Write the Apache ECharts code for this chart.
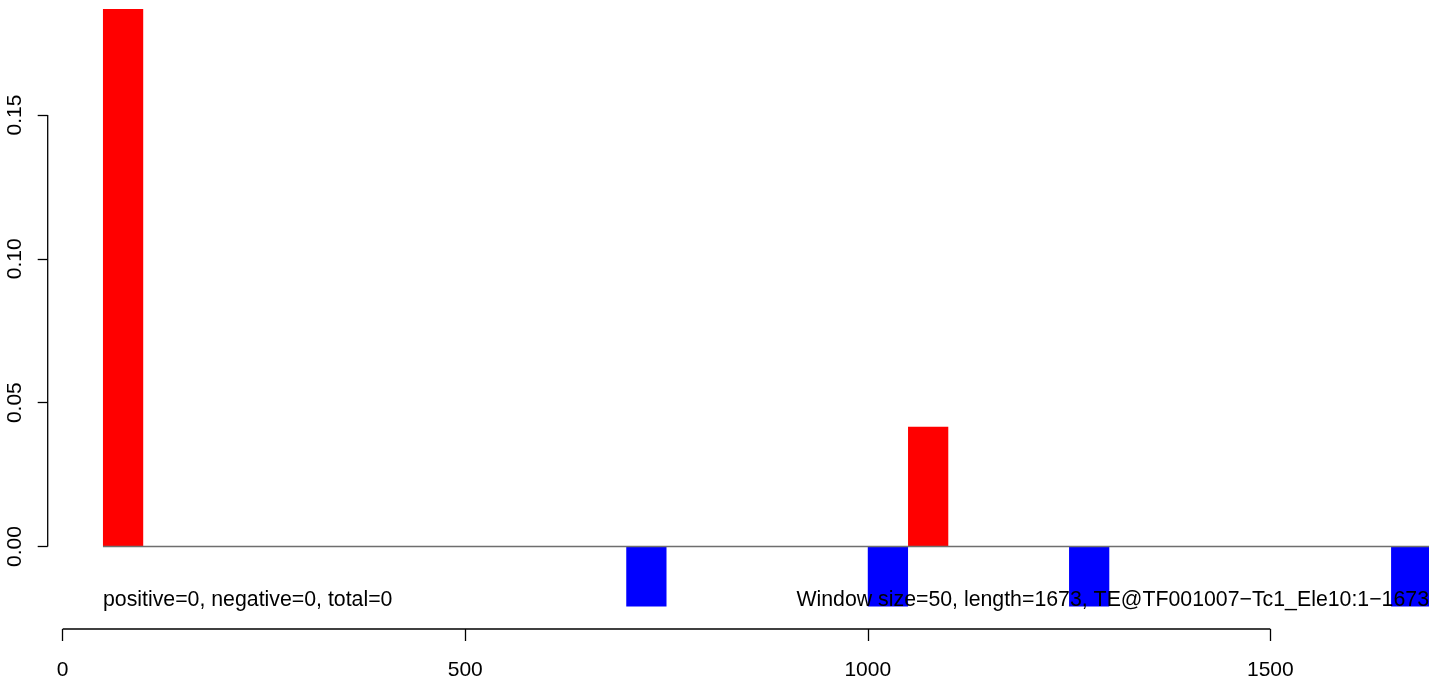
<!DOCTYPE html>
<html>
<head>
<meta charset="utf-8">
<script src="https://cdn.jsdelivr.net/npm/echarts@6/dist/echarts.min.js"></script>
<style>
html,body{margin:0;padding:0;background:#fff;}
#chart{width:1429px;height:676px;}
</style>
</head>
<body>
<div id="chart"></div>
<script>
// ---- data ----
var windowSize = 50;
var windowStarts = [50, 700, 1000, 1050, 1250, 1650];
var windowValues = [0.1868, -0.0209, -0.0209, 0.0416, -0.0209, -0.0209];
var xTicks = [0, 500, 1000, 1500];
var xTickLabels = ['0', '500', '1000', '1500'];
var yTicks = [0, 0.05, 0.10, 0.15];
var yTickLabels = ['0.00', '0.05', '0.10', '0.15'];
var baselineRange = [50, 1700];
var leftNote = 'positive=0, negative=0, total=0';
var rightNote = 'Window size=50, length=1673, TE@TF001007\u2212Tc1_Ele10:1\u22121673';

var FONT = '"Liberation Sans", Arial, Helvetica, sans-serif';
var chart = echarts.init(document.getElementById('chart'), null, {renderer: 'canvas'});

var barData = windowStarts.map(function (s, i) { return [s, s + windowSize, windowValues[i]]; });

var yMin = -0.02868, yMax = 0.18997;

var option = {
  animation: false,
  backgroundColor: '#ffffff',
  grid: {left: 62.7, right: 0, top: 0, bottom: 47, containLabel: false, outerBoundsMode: 'none'},
  xAxis: {
    type: 'value', min: 0, max: 1697.1,
    axisLine: {show: false, onZero: false},
    splitLine: {show: false},
    axisTick: {show: true, inside: false, customValues: xTicks, length: 12, lineStyle: {color: '#000', width: 1.3}},
    axisLabel: {
      customValues: xTicks, fontSize: 21, color: '#000', fontFamily: FONT, margin: 31,
      formatter: function (v) { var i = xTicks.indexOf(v); return i >= 0 ? xTickLabels[i] : String(v); }
    }
  },
  yAxis: {
    type: 'value', min: yMin, max: yMax, offset: 15,
    axisLine: {show: false, onZero: false},
    splitLine: {show: false},
    axisTick: {show: true, inside: false, customValues: yTicks, length: 10, lineStyle: {color: '#000', width: 1.3}},
    axisLabel: {
      customValues: yTicks, fontSize: 21, color: '#000', fontFamily: FONT, rotate: 90, margin: 22,
      formatter: function (v) { var i = yTicks.indexOf(v); return i >= 0 ? yTickLabels[i] : v.toFixed(2); }
    }
  },
  series: [
    {
      type: 'custom', clip: true, z: 2,
      data: barData,
      renderItem: function (params, api) {
        var p1 = api.coord([api.value(0), api.value(2)]);
        var p2 = api.coord([api.value(1), 0]);
        var v = api.value(2);
        return {
          type: 'rect',
          shape: {x: p1[0], y: Math.min(p1[1], p2[1]), width: p2[0] - p1[0], height: Math.abs(p2[1] - p1[1])},
          style: {fill: v >= 0 ? '#ff0000' : '#0000ff'}
        };
      }
    },
    {
      type: 'line', z: 3, silent: true, symbol: 'none', clip: true,
      data: [[baselineRange[0], 0], [baselineRange[1], 0]],
      lineStyle: {color: '#6e6e6e', width: 1.3}
    },
    {
      // R-style axis lines spanning first to last tick
      type: 'custom', z: 4, silent: true, clip: false,
      data: [[0]],
      renderItem: function (params, api) {
        var xa = api.coord([xTicks[0], yMin]);
        var xb = api.coord([xTicks[xTicks.length - 1], yMin]);
        var ya = api.coord([0, yTicks[0]]);
        var yb = api.coord([0, yTicks[yTicks.length - 1]]);
        var yx = ya[0] - 15;
        return {
          type: 'group',
          children: [
            {type: 'line', shape: {x1: xa[0], y1: xa[1], x2: xb[0], y2: xb[1]}, style: {stroke: '#000', lineWidth: 1.3}},
            {type: 'line', shape: {x1: yx, y1: ya[1], x2: yx, y2: yb[1]}, style: {stroke: '#000', lineWidth: 1.3}}
          ]
        };
      }
    },
    {
      type: 'custom', z: 10, silent: true, clip: false,
      data: [[0]],
      renderItem: function (params, api) {
        var pL = api.coord([baselineRange[0], 0]);
        var cs = params.coordSys;
        return {
          type: 'group',
          children: [
            {type: 'text', x: pL[0], y: 600, style: {text: leftNote, fill: '#000', font: '21.3px ' + FONT, textAlign: 'left', textVerticalAlign: 'middle'}},
            {type: 'text', x: cs.x + cs.width, y: 600, style: {text: rightNote, fill: '#000', font: '21.3px ' + FONT, textAlign: 'right', textVerticalAlign: 'middle'}}
          ]
        };
      }
    }
  ]
};
chart.setOption(option);
</script>
</body>
</html>
